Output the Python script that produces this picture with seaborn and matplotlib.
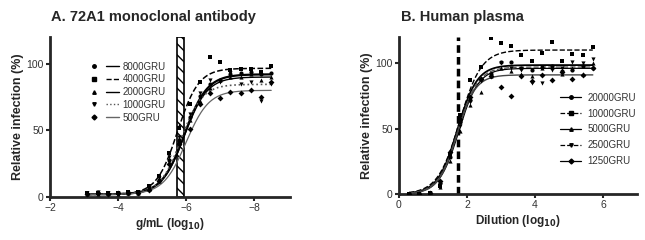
import numpy as np
import pandas as pd
import seaborn as sns
import matplotlib.pyplot as plt
from matplotlib.lines import Line2D
from matplotlib.legend_handler import HandlerTuple

# ---- Panel A: 72A1 monoclonal antibody (x = log10 g/mL) ----
x_a = [-3.1, -3.4, -3.7, -4.0, -4.3, -4.6, -4.9, -5.2, -5.5, -5.8,
       -6.1, -6.4, -6.7, -7.0, -7.3, -7.6, -7.9, -8.2, -8.5]
labels_a = ['8000GRU', '4000GRU', '2000GRU', '1000GRU', '500GRU']
pts_a = {
    '8000GRU': [2, 3, 2, 3, 3, 3, 6, 13, 28, 42, 60, 76, 85, 88, 92, 93, 94, 92, 93],
    '4000GRU': [3, 3, 3, 3, 4, 4, 8, 16, 33, 52, 70, 86, 105, 101, 95, 96, 96, 94, 98],
    '2000GRU': [2, 2, 3, 2, 3, 3, 6, 12, 26, 44, 58, 72, 82, 88, 90, 90, 92, 88, 90],
    '1000GRU': [3, 4, 3, 3, 3, 4, 7, 14, 30, 45, 62, 78, 88, 86, 93, 85, 86, 72, 85],
    '500GRU':  [2, 3, 2, 3, 3, 3, 5, 12, 25, 40, 51, 70, 78, 74, 79, 78, 80, 75, 86],
}
# fitted sigmoid parameters: bottom, top, logEC50, hill
fit_a = {
    '8000GRU': (2, 92, 5.95, 1.3),
    '4000GRU': (2, 96.5, 5.75, 1.4),
    '2000GRU': (2, 90, 5.95, 1.3),
    '1000GRU': (2, 84.5, 5.85, 1.4),
    '500GRU':  (2, 80, 6.0, 1.3),
}
band_a = (-5.72, -5.95)

# ---- Panel B: Human plasma (x = log10 dilution) ----
x_b = [0.3, 0.6, 0.9, 1.2, 1.5, 1.8, 2.1, 2.4, 2.7, 3.0,
       3.3, 3.6, 3.9, 4.2, 4.5, 4.8, 5.1, 5.4, 5.7]
labels_b = ['20000GRU', '10000GRU', '5000GRU', '2500GRU', '1250GRU']
pts_b = {
    '20000GRU': [0, 0, 1, 8, 28, 55, 72, 88, 92, 101, 101, 96, 95, 97, 98, 94, 95, 98, 96],
    '10000GRU': [0, 0, 1, 6, 30, 60, 87, 97, 119, 115, 113, 106, 102, 108, 116, 102, 107, 106, 112],
    '5000GRU':  [0, 0, 0, 5, 25, 48, 68, 78, 90, 96, 94, 92, 90, 96, 97, 92, 96, 92, 100],
    '2500GRU':  [0, 0, 1, 7, 30, 52, 70, 86, 92, 100, 96, 95, 85, 85, 95, 96, 101, 100, 103],
    '1250GRU':  [0, 0, 1, 10, 32, 57, 74, 88, 90, 82, 75, 90, 86, 91, 87, 93, 88, 91, 96],
}
fit_b = {
    '20000GRU': (0, 98.5, 1.72, 1.5),
    '10000GRU': (0, 110, 1.78, 1.35),
    '5000GRU':  (0, 96, 1.76, 1.5),
    '2500GRU':  (0, 97, 1.74, 1.5),
    '1250GRU':  (0, 91, 1.7, 1.6),
}
line_b = 1.75

markers = ['o', 's', '^', 'v', 'D']
styles_a = [('-', 'black', 1.6), ('--', 'black', 1.1), ('-', 'black', 1.0),
            (':', '#555555', 1.2), ('-', '#666666', 0.9)]
styles_b = [('-', 'black', 1.3), ('--', 'black', 1.0), ('-', 'black', 0.9),
            ('--', '#555555', 1.0), ('-', '#444444', 1.0)]


def sigmoid(u, p):
    bottom, top, ec50, hill = p
    return bottom + (top - bottom) / (1 + 10 ** ((ec50 - u) * hill))


sns.set_style('ticks')
plt.rcParams['font.family'] = ['Liberation Sans', 'DejaVu Sans']
plt.rcParams['mathtext.default'] = 'bf'

fig = plt.figure(figsize=(6.45, 2.4), dpi=100)
ax_a = fig.add_axes([0.0775, 0.179, 0.372, 0.667])
ax_b = fig.add_axes([0.6186, 0.192, 0.369, 0.654])

# panel A
ax_a.axvspan(band_a[0], band_a[1], ymax=1.0, facecolor='white', edgecolor='black',
             hatch='\\\\\\', linewidth=1.2, zorder=1)
handles_a = []
u_fine = np.linspace(3.1, 8.5, 200)
for lab, m, (ls, col, lw) in zip(labels_a, markers, styles_a):
    sns.lineplot(x=-u_fine, y=sigmoid(u_fine, fit_a[lab]), ax=ax_a, color=col,
                 linestyle=ls, linewidth=lw, zorder=3)
    sns.scatterplot(x=x_a, y=pts_a[lab], ax=ax_a, marker=m, color='black',
                    s=9, linewidth=0, zorder=4)
    handles_a.append((Line2D([], [], marker=m, color='black', ls='none', markersize=2.5),
                      Line2D([], [], color=col, ls=ls, lw=1.0)))

ax_a.legend(handles_a, labels_a, handler_map={tuple: HandlerTuple(ndivide=None, pad=0.6)},
            loc='upper left', bbox_to_anchor=(0.12, 0.9), frameon=False, fontsize=7,
            handlelength=3.2, labelspacing=0.28, handletextpad=0.4, labelcolor='#333333')

ax_a.set_xlim(-2, -9.05)
ax_a.set_ylim(0, 120)
ax_a.set_xticks([-2, -4, -6, -8])
ax_a.set_yticks([0, 50, 100])
ax_a.set_xlabel('g/mL (log$_{10}$)', fontsize=8.5, fontweight='bold', labelpad=2)
ax_a.set_ylabel('Relative infection (%)', fontsize=9, fontweight='bold', labelpad=2)
fig.text(153 / 645, 1 - 17 / 240, 'A. 72A1 monoclonal antibody', fontsize=10.5,
         fontweight='bold', ha='center', va='center')

# panel B
ax_b.axvline(line_b, color='black', linestyle=(0, (2.2, 1.2)), linewidth=2.5, zorder=1)
handles_b = []
x_fine = np.linspace(0.3, 5.7, 200)
for lab, m, (ls, col, lw) in zip(labels_b, markers, styles_b):
    sns.lineplot(x=x_fine, y=sigmoid(x_fine, fit_b[lab]), ax=ax_b, color=col,
                 linestyle=ls, linewidth=lw, zorder=3)
    sns.scatterplot(x=x_b, y=pts_b[lab], ax=ax_b, marker=m, color='black',
                    s=9, linewidth=0, zorder=4)
    handles_b.append(Line2D([], [], marker=m, color='black', ls=ls, lw=0.9, markersize=2.5))

ax_b.legend(handles_b, labels_b, loc='upper left', bbox_to_anchor=(0.64, 0.7),
            frameon=False, fontsize=7, handlelength=2.2, labelspacing=0.6,
            handletextpad=0.6, labelcolor='#333333')

ax_b.set_xlim(0, 7)
ax_b.set_ylim(0, 120)
ax_b.set_xticks([0, 2, 4, 6])
ax_b.set_yticks([0, 50, 100])
ax_b.set_xlabel('Dilution (log$_{10}$)', fontsize=8.5, fontweight='bold', labelpad=2)
ax_b.set_ylabel('Relative infection (%)', fontsize=9, fontweight='bold', labelpad=2)
fig.text(462 / 645, 1 - 17 / 240, 'B. Human plasma', fontsize=10.5,
         fontweight='bold', ha='center', va='center')

for ax in (ax_a, ax_b):
    sns.despine(ax=ax)
    for side in ('left', 'bottom'):
        ax.spines[side].set_linewidth(2)
    ax.tick_params(axis='both', labelsize=7.5, width=1.5, length=3, pad=1.5,
                   labelcolor='#333333')

fig.savefig('out.png', dpi=100)
